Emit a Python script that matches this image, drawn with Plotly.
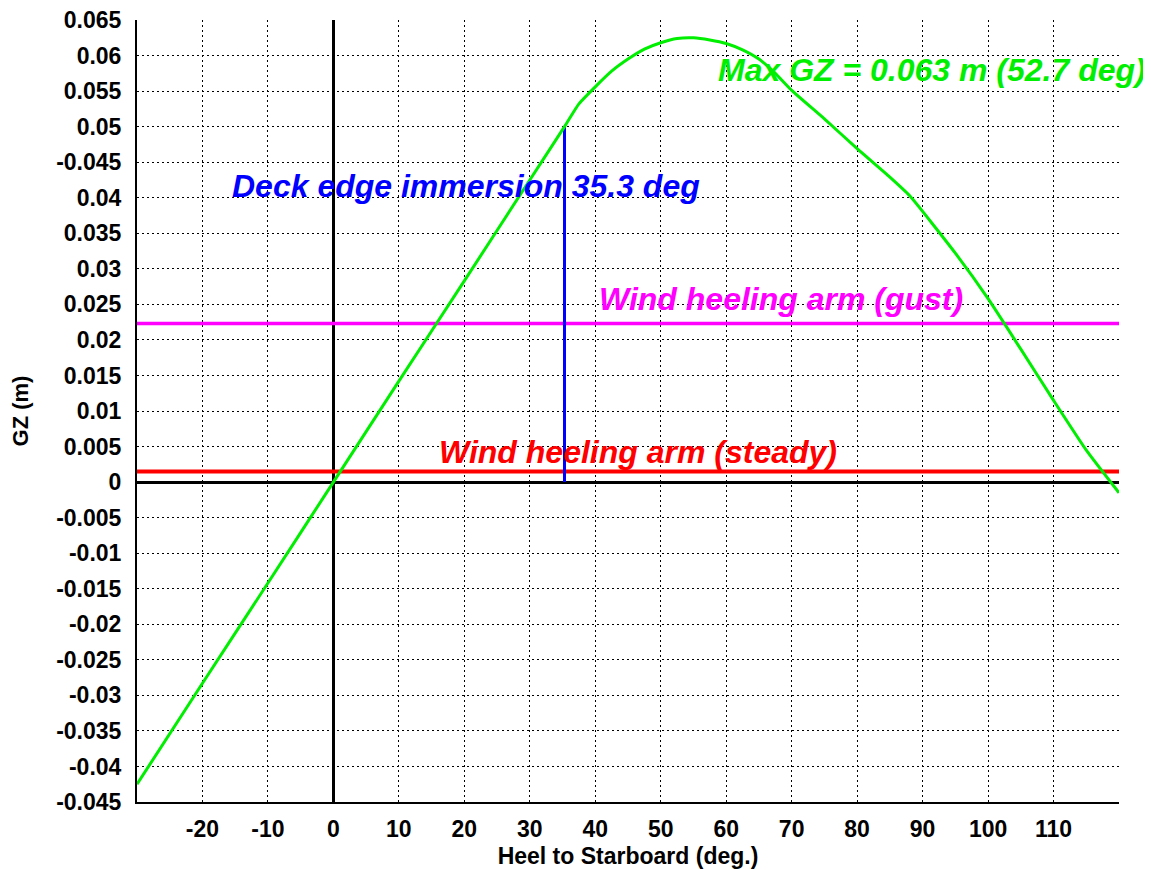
import plotly.graph_objects as go

# ---- data ----
heel_deg = [-30, -20, -10, 0, 10, 20, 30, 35.3, 37.5, 40, 42.5, 45, 47.5, 50, 52.5,
            55, 57.5, 60, 62.5, 65, 67.5, 70, 75, 80, 85, 88, 95, 100, 105, 110, 115, 120]
gz_m = [-0.0425, -0.0283, -0.0142, 0.0, 0.0142, 0.0283, 0.0425, 0.0500, 0.0532, 0.0556,
        0.0578, 0.0595, 0.0609, 0.0618, 0.0624, 0.0625, 0.0622, 0.0617, 0.0608, 0.0595,
        0.0575, 0.0551, 0.0511, 0.0469, 0.0429, 0.0403, 0.0322, 0.0258, 0.0187, 0.0115,
        0.0045, -0.0015]

steady_arm = 0.0015
gust_arm = 0.0223
deck_edge_deg = 35.3
deck_edge_gz = 0.0500
max_gz = 0.063
max_gz_deg = 52.7

x_range = [-30, 120]
y_range = [-0.045, 0.065]

x_tickvals = [-20, -10, 0, 10, 20, 30, 40, 50, 60, 70, 80, 90, 100, 110]
x_ticktext = ["-20", "-10", "0", "10", "20", "30", "40", "50", "60", "70", "80", "90", "100", "110"]
y_tickvals = [0.065, 0.06, 0.055, 0.05, 0.045, 0.04, 0.035, 0.03, 0.025, 0.02, 0.015, 0.01,
              0.005, 0.0, -0.005, -0.01, -0.015, -0.02, -0.025, -0.03, -0.035, -0.04, -0.045]
y_ticktext = ["0.065", "0.06", "0.055", "0.05", "-0.045", "0.04", "0.035", "0.03", "0.025",
              "0.02", "0.015", "0.01", "0.005", "0", "-0.005", "-0.01", "-0.015", "-0.02",
              "-0.025", "-0.03", "-0.035", "-0.04", "-0.045"]

FONT = "Liberation Sans, Arial, sans-serif"

fig = go.Figure()

fig.add_trace(go.Scatter(x=x_range, y=[steady_arm, steady_arm], mode="lines",
                         line=dict(color="#ff0000", width=4), hoverinfo="skip"))
fig.add_trace(go.Scatter(x=x_range, y=[gust_arm, gust_arm], mode="lines",
                         line=dict(color="#ff00ff", width=3.5), hoverinfo="skip"))
fig.add_trace(go.Scatter(x=[deck_edge_deg, deck_edge_deg], y=[0, deck_edge_gz], mode="lines",
                         line=dict(color="#0000ff", width=3), hoverinfo="skip"))
fig.add_trace(go.Scatter(x=heel_deg, y=gz_m, mode="lines",
                         line=dict(color="#00ee00", width=3, shape="spline", smoothing=0.5)))

ann_font = dict(family=FONT, size=32, weight="bold", style="italic")
fig.add_annotation(x=91.4, y=0.0580, xref="x", yref="y", showarrow=False,
                   text=f"Max GZ = {max_gz:.3f} m ({max_gz_deg} deg)",
                   font=dict(color="#00ee00", **ann_font))
fig.add_annotation(x=20.2, y=0.0416, xref="x", yref="y", showarrow=False,
                   text=f"Deck edge immersion {deck_edge_deg} deg",
                   font=dict(color="#0000ff", **ann_font))
fig.add_annotation(x=68.4, y=0.0257, xref="x", yref="y", showarrow=False,
                   text="Wind heeling arm (gust)",
                   font=dict(color="#ff00ff", **ann_font))
fig.add_annotation(x=46.5, y=0.0042, xref="x", yref="y", showarrow=False,
                   text="Wind heeling arm (steady)",
                   font=dict(color="#ff0000", **ann_font))

# page body has an 8px margin, so the figure is 8px smaller and margins offset
fig.update_layout(
    width=1143, height=862,
    margin=dict(l=129, r=32, t=12, b=68),
    paper_bgcolor="white", plot_bgcolor="white",
    showlegend=False,
    font=dict(family=FONT, color="black"),
)

fig.update_xaxes(
    range=x_range, tickmode="array", tickvals=x_tickvals, ticktext=x_ticktext,
    tickfont=dict(family=FONT, size=23, weight="bold", color="black"),
    ticks="", ticklabelstandoff=5, ticklabeloverflow="allow",
    showline=True, linecolor="black", linewidth=2, mirror=False,
    showgrid=True, gridcolor="black", gridwidth=1, griddash="2px,3px",
    zeroline=True, zerolinecolor="black", zerolinewidth=3,
    title=dict(text="Heel to Starboard (deg.)", standoff=7,
               font=dict(family=FONT, size=23, weight="bold", color="black")),
    automargin=False,
)
fig.update_yaxes(
    range=y_range, tickmode="array", tickvals=y_tickvals, ticktext=y_ticktext,
    tickfont=dict(family=FONT, size=23, weight="bold", color="black"),
    ticks="", ticklabelstandoff=9, ticklabeloverflow="allow",
    showline=True, linecolor="black", linewidth=2, mirror=False,
    showgrid=True, gridcolor="black", gridwidth=1, griddash="2px,3px",
    zeroline=True, zerolinecolor="black", zerolinewidth=3,
    title=dict(text="GZ (m)", standoff=21,
               font=dict(family=FONT, size=22, weight="bold", color="black")),
    automargin=False,
)

fig.write_html("out.html")
